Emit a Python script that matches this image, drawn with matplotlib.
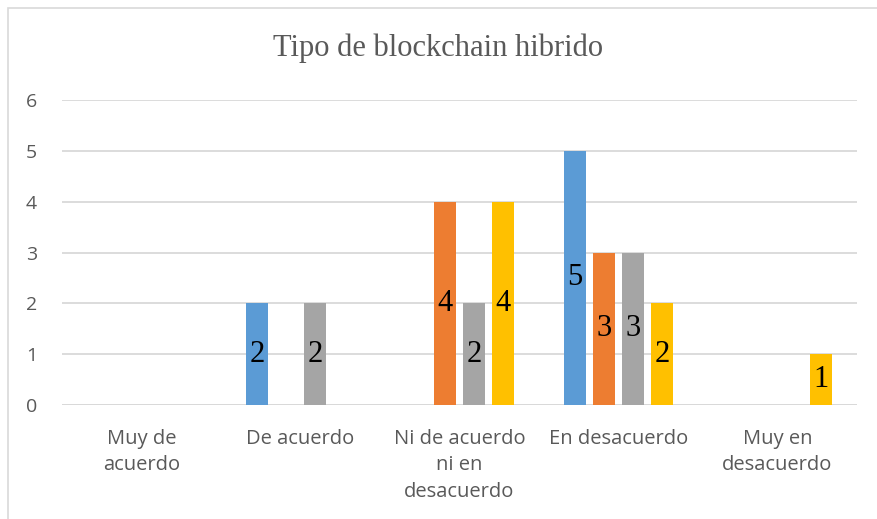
import matplotlib
matplotlib.use('Agg')
import matplotlib.pyplot as plt
import numpy as np
from matplotlib.patches import Rectangle

categories = ['Muy de\nacuerdo', 'De acuerdo', 'Ni de acuerdo\nni en\ndesacuerdo',
              'En desacuerdo', 'Muy en\ndesacuerdo']
serie_1 = [0, 2, 0, 5, 0]
serie_2 = [0, 0, 4, 3, 0]
serie_3 = [0, 2, 2, 3, 0]
serie_4 = [0, 0, 4, 2, 1]
colors = ['#5b9bd5', '#ed7d31', '#a5a5a5', '#ffc000']
title = 'Tipo de blockchain hibrido'

fig = plt.figure(figsize=(8.77, 5.19), dpi=100)
ax = fig.add_axes([62/877, 114/519, 795/877, 305/519])

# marco del gráfico
fig.patches.append(Rectangle((8/877, -0.1), 1.2, (519-8)/519 + 0.1,
                             transform=fig.transFigure, fill=False,
                             edgecolor='#d9d9d9', linewidth=1.2))

x = np.arange(len(categories))
step = 0.182
width = 0.138
series = [serie_1, serie_2, serie_3, serie_4]

for i, (vals, col) in enumerate(zip(series, colors)):
    pos = x + (i - 1.5) * step
    bars = ax.bar(pos, vals, width=width, color=col, zorder=3)
    for b, v in zip(bars, vals):
        if v > 0:
            ax.text(b.get_x() + b.get_width()/2, v/2, str(v),
                    ha='center', va='center', fontsize=22,
                    family='Liberation Serif', color='black', zorder=4)

ax.set_xlim(-0.5, 4.5)
ax.set_ylim(0, 6)
ax.set_yticks(range(0, 7))
ax.grid(axis='y', color='#d9d9d9', linewidth=1.3, zorder=0)
for s in ax.spines.values():
    s.set_visible(False)
ax.axhline(0, color='#d9d9d9', linewidth=1.3, zorder=2)
ax.tick_params(length=0)
ax.tick_params(axis='y', pad=18, labelsize=14, labelcolor='#595959')
ax.tick_params(axis='x', pad=17, labelsize=14.5, labelcolor='#595959')
ax.set_xticks(x)
ax.set_xticklabels(categories, linespacing=1.45, family='Open Sans')
for lab in ax.get_yticklabels():
    lab.set_family('Open Sans')

fig.text(0.5, 1 - 48/519, title, ha='center', va='center', fontsize=22,
         family='Liberation Serif', color='#595959')

fig.savefig('out.png', dpi=100)
